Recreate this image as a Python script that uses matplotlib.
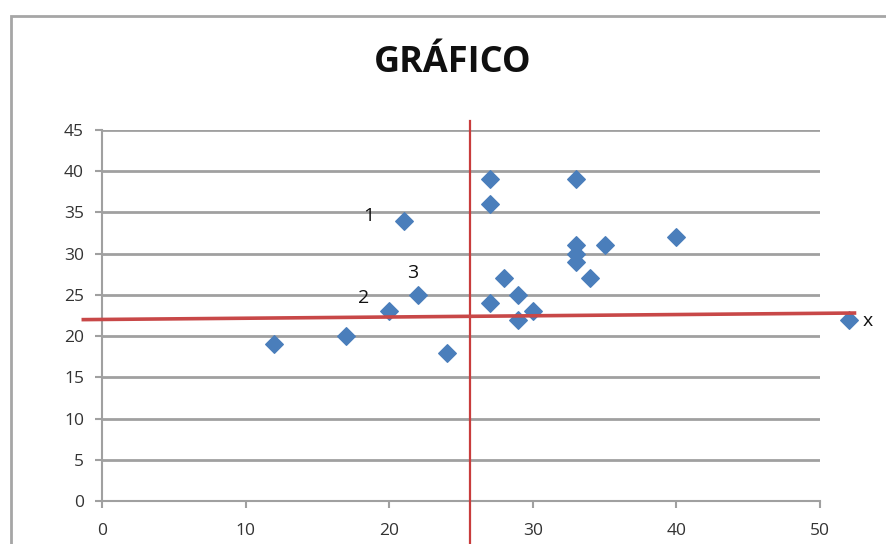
import matplotlib.pyplot as plt
from matplotlib.patches import Rectangle

# scatter data
xs = [12, 17, 20, 21, 22, 24, 27, 27, 27, 28, 29, 29, 30, 33, 33, 33, 33, 34, 35, 40, 52]
ys = [19, 20, 23, 34, 25, 18, 39, 36, 24, 27, 25, 22, 23, 39, 31, 30, 29, 27, 31, 32, 22]

# hand drawn red guide lines
vline_x = 25.6
vline_y = [46.1, -6]
hline_x = [-1.3, 52.4]
hline_y = [22.0, 22.8]

# point labels
label_texts = ["1", "2", "3", "x"]
label_xs = [18.6, 18.2, 21.6, 53.3]
label_ys = [34.6, 24.6, 27.7, 21.8]

plt.rcParams['font.family'] = ['Open Sans', 'DejaVu Sans']

fig = plt.figure(figsize=(8.86, 5.44), dpi=100)
fig.patches.append(Rectangle((11 / 886, -0.1), 1.2, 1 - 16 / 544 + 0.1,
                             transform=fig.transFigure, fill=False,
                             edgecolor='#a6a6a6', linewidth=2))

ax = fig.add_axes([102 / 886, 1 - 501 / 544, (820 - 102) / 886, (501 - 130) / 544])
ax.set_xlim(0, 50)
ax.set_ylim(0, 45)
ax.set_xticks(range(0, 51, 10))
ax.set_yticks(range(0, 46, 5))
ax.grid(axis='y', color='#a0a0a0', linewidth=2)
ax.set_axisbelow(True)
for s in ['top', 'right']:
    ax.spines[s].set_visible(False)
for s in ['left', 'bottom']:
    ax.spines[s].set_color('#a0a0a0')
    ax.spines[s].set_linewidth(1.5)
ax.tick_params(axis='both', colors='#a0a0a0', labelcolor='#333333', labelsize=12.5,
               length=5, width=1.5)
ax.tick_params(axis='x', pad=11)
ax.tick_params(axis='y', pad=8)
for lbl in ax.get_xticklabels() + ax.get_yticklabels():
    lbl.set_fontweight('medium')

ax.scatter(xs, ys, marker='D', s=80, color='#4a7ebb', zorder=3, clip_on=False)

ax.plot([vline_x, vline_x], vline_y, color='#c83c3c', linewidth=1.6, clip_on=False, zorder=4)
ax.plot(hline_x, hline_y, color='#c84848', linewidth=2.6, clip_on=False, zorder=4)

for t, lx, ly in zip(label_texts, label_xs, label_ys):
    ax.text(lx, ly, t, fontsize=14, color='#111111', ha='center', va='center')

fig.text(453 / 886, 1 - 63 / 544, "GRÁFICO", fontsize=26, fontweight='bold',
         ha='center', va='center', color='#101010')

plt.savefig('out.png', dpi=100)
